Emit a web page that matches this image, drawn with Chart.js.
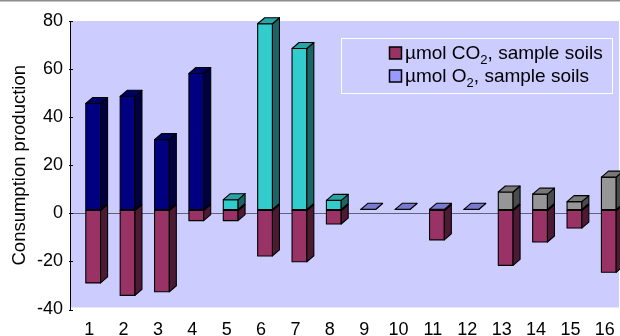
<!DOCTYPE html>
<html>
<head>
<meta charset="utf-8">
<script src="https://cdn.jsdelivr.net/npm/chart.js@4/dist/chart.umd.min.js"></script>
<style>
  html, body { margin: 0; padding: 0; background: #ffffff; }
  canvas { display: block; }
</style>
</head>
<body>
<canvas id="chart" width="620" height="336"></canvas>
<script>
// Soil samples 1–16
const categories = ['1', '2', '3', '4', '5', '6', '7', '8', '9', '10', '11', '12', '13', '14', '15', '16'];

// CO2 production (drawn below the zero line)
const co2Values = [-30.3, -35.5, -34.0, -4.4, -4.4, -19.1, -21.5, -5.8, 0, 0, -12.4, 0, -23.0, -13.3, -7.5, -25.9];

// O2 consumption (drawn above the zero line)
const o2Values = [44.3, 47.3, 29.3, 56.8, 4.3, 77.5, 67.2, 4.0, 0.3, 0.3, 0.3, 0.3, 7.5, 6.6, 3.5, 13.7];

// Value axis ticks
const yTicks = [-40, -20, 0, 20, 40, 60, 80];

const seriesLabels = ['µmol CO2, sample soils', 'µmol O2, sample soils'];
const axisTitle = 'Consumption production';

// Colours
const CO2_COLOR = '#993366';
const O2_LEGEND_COLOR = '#9999ff';
const O2_GROUP_COLORS = ['#000080', '#33cccc', '#9999ff', '#969696']; // samples 1-4, 5-8, 9-12, 13-16
const PLOT_BG = '#ccccff';
const FONT = "'Liberation Sans', Arial, Helvetica, sans-serif";

// 3D box geometry
const DEPTH_X = 7, DEPTH_Y = 6;
const SHIFT_X = 6, SHIFT_Y = -3.3;

function shade(hex, f) {
  const n = parseInt(hex.slice(1), 16);
  const r = Math.round(((n >> 16) & 255) * f);
  const g = Math.round(((n >> 8) & 255) * f);
  const b = Math.round((n & 255) * f);
  return 'rgb(' + r + ',' + g + ',' + b + ')';
}

function drawBox(ctx, cx, top, bottom, w, color) {
  const l = cx - w / 2, r = cx + w / 2;
  ctx.strokeStyle = '#000000';
  ctx.lineWidth = 1.1;
  ctx.lineJoin = 'round';
  // front face
  ctx.beginPath();
  ctx.rect(l, top, w, bottom - top);
  ctx.fillStyle = color;
  ctx.fill();
  ctx.stroke();
  // side face
  ctx.beginPath();
  ctx.moveTo(r, top);
  ctx.lineTo(r + DEPTH_X, top - DEPTH_Y);
  ctx.lineTo(r + DEPTH_X, bottom - DEPTH_Y);
  ctx.lineTo(r, bottom);
  ctx.closePath();
  ctx.fillStyle = shade(color, 0.5);
  ctx.fill();
  ctx.stroke();
  // top face
  ctx.beginPath();
  ctx.moveTo(l, top);
  ctx.lineTo(r, top);
  ctx.lineTo(r + DEPTH_X, top - DEPTH_Y);
  ctx.lineTo(l + DEPTH_X, top - DEPTH_Y);
  ctx.closePath();
  ctx.fillStyle = shade(color, 0.8);
  ctx.fill();
  ctx.stroke();
}

const boxPlugin = {
  id: 'boxes3d',
  beforeDraw(chart) {
    const { ctx, chartArea } = chart;
    ctx.save();
    // thin frame line across the top of the figure
    ctx.fillStyle = '#8c8c8c';
    ctx.fillRect(0, 0, chart.width, 1.5);
    // plot wall
    ctx.fillStyle = PLOT_BG;
    ctx.fillRect(chartArea.left, chartArea.top, chartArea.right - chartArea.left - 1, chartArea.bottom - chartArea.top - 2);
    ctx.restore();
  },
  beforeDatasetsDraw(chart) {
    const ctx = chart.ctx;
    const metas = chart.data.datasets.map((d, i) => chart.getDatasetMeta(i));
    ctx.save();
    ctx.translate(SHIFT_X, SHIFT_Y);
    for (let i = 0; i < categories.length; i++) {
      metas.forEach((meta, di) => {
        const ds = chart.data.datasets[di];
        const v = ds.data[i];
        if (!v) return;
        const el = meta.data[i];
        const p = el.getProps(['x', 'y', 'base', 'width'], true);
        const color = Array.isArray(ds.backgroundColor) ? ds.backgroundColor[i] : ds.backgroundColor;
        drawBox(ctx, p.x, Math.min(p.y, p.base), Math.max(p.y, p.base), p.width, color);
      });
    }
    ctx.restore();
    return false;
  },
  afterDraw(chart) {
    const ctx = chart.ctx;
    const yScale = chart.scales.y;
    const xLeft = chart.chartArea.left;
    ctx.save();
    // small inward tick marks on the value axis
    ctx.strokeStyle = '#000000';
    ctx.lineWidth = 1;
    yScale.ticks.forEach(t => {
      const py = Math.round(yScale.getPixelForValue(t.value)) + 0.5;
      ctx.beginPath();
      ctx.moveTo(xLeft - 1, py);
      ctx.lineTo(xLeft + 3, py);
      ctx.stroke();
    });

    // legend box
    ctx.strokeStyle = '#ffffff';
    ctx.lineWidth = 1;
    ctx.strokeRect(341.5, 38.5, 271, 55);
    const rows = [
      { label: seriesLabels[0], color: CO2_COLOR, baseline: 58.5 },
      { label: seriesLabels[1], color: O2_LEGEND_COLOR, baseline: 81.5 }
    ];
    rows.forEach(row => {
      ctx.fillStyle = row.color;
      ctx.strokeStyle = '#000000';
      ctx.lineWidth = 1.5;
      ctx.beginPath();
      ctx.rect(389.5, row.baseline - 11.5, 12, 12);
      ctx.fill();
      ctx.stroke();
      // text with a subscripted "2" in the formula
      const m = row.label.match(/^(.*?[A-Z])2(.*)$/);
      let x = 405;
      ctx.fillStyle = '#000000';
      ctx.textBaseline = 'alphabetic';
      ctx.textAlign = 'left';
      ctx.font = '19px ' + FONT;
      ctx.fillText(m[1], x, row.baseline);
      x += ctx.measureText(m[1]).width;
      ctx.font = '13px ' + FONT;
      ctx.fillText('2', x, row.baseline + 5);
      x += ctx.measureText('2').width;
      ctx.font = '19px ' + FONT;
      ctx.fillText(m[2], x, row.baseline);
    });
    ctx.restore();
  }
};

Chart.defaults.font.family = FONT;
Chart.defaults.color = '#000000';

new Chart(document.getElementById('chart'), {
  type: 'bar',
  data: {
    labels: categories,
    datasets: [
      {
        label: seriesLabels[0],
        data: co2Values,
        backgroundColor: CO2_COLOR
      },
      {
        label: seriesLabels[1],
        data: o2Values,
        backgroundColor: o2Values.map((v, i) => O2_GROUP_COLORS[Math.floor(i / 4)])
      }
    ]
  },
  options: {
    responsive: false,
    animation: false,
    devicePixelRatio: 1,
    layout: { padding: { top: 21, right: 0, bottom: 0, left: 0 } },
    datasets: { bar: { categoryPercentage: 1, barPercentage: 0.43 } },
    plugins: {
      legend: { display: false },
      tooltip: { enabled: false }
    },
    scales: {
      x: {
        stacked: true,
        grid: { display: false },
        border: { display: false },
        ticks: { font: { size: 18 }, padding: 1.5, labelOffset: 2, maxRotation: 0, autoSkip: false, color: '#000' },
        afterFit(s) { s.height = 26.5; }
      },
      y: {
        stacked: true,
        min: -40,
        max: 80,
        afterBuildTicks(s) { s.ticks = yTicks.map(v => ({ value: v })); },
        grid: {
          drawTicks: false,
          color: ctx => (ctx.tick && ctx.tick.value === 0 ? '#62627e' : 'rgba(0,0,0,0)'),
          lineWidth: 1
        },
        border: { display: true, color: '#000000', width: 1 },
        ticks: { font: { size: 18 }, padding: 7, color: '#000' },
        title: {
          display: true,
          text: axisTitle,
          font: { size: 18.5 },
          color: '#000',
          padding: { top: 9, bottom: 0 }
        },
        afterFit(s) { s.width = 70; }
      }
    }
  },
  plugins: [boxPlugin]
});
</script>
</body>
</html>
